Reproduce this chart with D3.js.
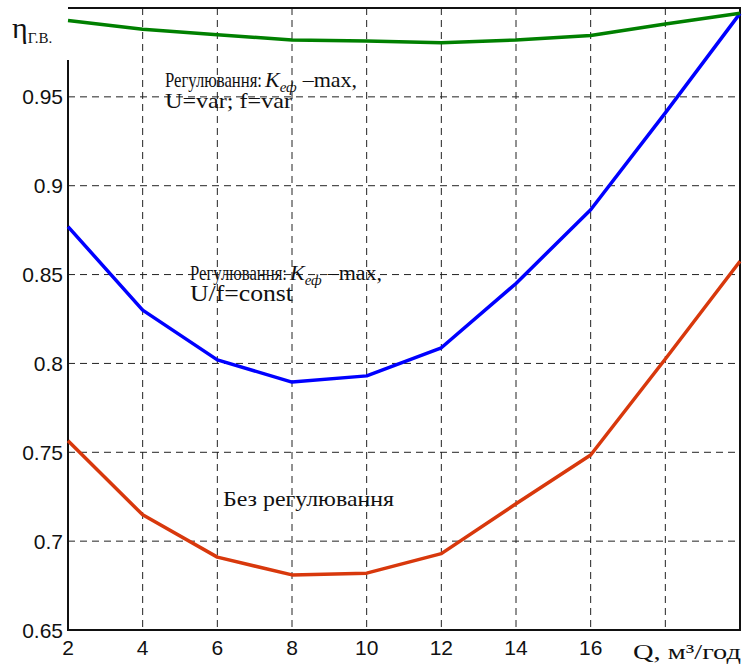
<!DOCTYPE html>
<meta charset="utf-8">
<style>
body { margin: 0; background: #fff; }
.grid line { stroke: #222; stroke-width: 1; stroke-dasharray: 7,5; }
.tick-label { font: 21px "Liberation Sans", Arial, sans-serif; fill: #111; }
.note { font-family: "Liberation Serif", "DejaVu Serif", "Times New Roman", serif; fill: #111; }
.curve { fill: none; stroke-width: 3.5px; stroke-linejoin: round; }
</style>
<body>
<script src="https://d3js.org/d3.v7.min.js"></script>
<script>

const width = 747;
const height = 666;

// Q, m3/h
const qValues = [2, 4, 6, 8, 10, 12, 14, 16, 18, 20];
// regulation Kef max, U=var; f=var
const etaVar = [0.993, 0.988, 0.985, 0.982, 0.9815, 0.9805, 0.982, 0.9845, 0.991, 0.997];
// regulation Kef max, U/f=const
const etaConst = [0.877, 0.830, 0.802, 0.7895, 0.793, 0.8088, 0.845, 0.8865, 0.941, 0.997];
// no regulation
const etaNone = [0.7565, 0.7148, 0.691, 0.681, 0.682, 0.693, 0.721, 0.7485, 0.8025, 0.8575];

const xTicks = [2, 4, 6, 8, 10, 12, 14, 16];
const xGrid = [4, 6, 8, 10, 12, 14, 16, 18];
const yTicks = [0.65, 0.7, 0.75, 0.8, 0.85, 0.9, 0.95];
const yGrid = [0.7, 0.75, 0.8, 0.85, 0.9, 0.95];

const x = d3.scaleLinear().domain([2, 20]).range([68, 740]);
const y = d3.scaleLinear().domain([0.65, 1.0]).range([630, 8]);

const svg = d3.select("body").append("svg")
    .attr("width", width)
    .attr("height", height);

// dashed grid
const grid = svg.append("g").attr("class", "grid");
grid.selectAll(".vg")
    .data(xGrid)
  .enter().append("line")
    .attr("x1", d => x(d)).attr("x2", d => x(d))
    .attr("y1", y(1.0)).attr("y2", y(0.65));
grid.selectAll(".hg")
    .data(yGrid)
  .enter().append("line")
    .attr("x1", x(2)).attr("x2", x(20))
    .attr("y1", d => y(d)).attr("y2", d => y(d));

// frame
svg.append("path")
    .attr("d", `M${x(2)},60 V${y(0.65)} H${x(20)} V${y(1.0)} H${x(2)}`)
    .attr("fill", "none")
    .attr("stroke", "#111")
    .attr("stroke-width", 2);

// tick labels
svg.selectAll(".ylab")
    .data(yTicks)
  .enter().append("text")
    .attr("class", "tick-label")
    .attr("x", 63)
    .attr("y", d => y(d))
    .attr("dy", "0.36em")
    .attr("text-anchor", "end")
    .text(d => d === 0.9 || d === 0.8 || d === 0.7 ? d.toFixed(1) : d.toFixed(2));

svg.selectAll(".xlab")
    .data(xTicks)
  .enter().append("text")
    .attr("class", "tick-label")
    .attr("x", d => x(d))
    .attr("y", 655)
    .attr("text-anchor", "middle")
    .text(d => d);

// curves
const line = d3.line()
    .x((d, i) => x(qValues[i]))
    .y(d => y(d));

const series = [
  { values: etaNone, color: "#d8380c" },
  { values: etaConst, color: "#0000ff" },
  { values: etaVar, color: "#008000" }
];

svg.selectAll(".curve")
    .data(series)
  .enter().append("path")
    .attr("class", "curve")
    .attr("stroke", d => d.color)
    .attr("d", d => line(d.values));

// axis titles
const eta = svg.append("text").attr("class", "note").attr("x", 12).attr("y", 38);
eta.append("tspan").style("font-size", "30px").text("η");
eta.append("tspan").style("font-size", "15px").attr("dy", 5).text("Г.В.");

svg.append("text")
    .attr("class", "note")
    .attr("x", 741)
    .attr("y", 659)
    .attr("text-anchor", "end")
    .style("font-size", "22px")
    .attr("textLength", 108)
    .attr("lengthAdjust", "spacingAndGlyphs")
    .text("Q, м³/год");

// annotations
function regLabel(x0, y0, secondLine, size2, len2) {
  svg.append("text").attr("class", "note")
      .attr("x", x0).attr("y", y0)
      .style("font-size", "21px")
      .attr("textLength", 97)
      .attr("lengthAdjust", "spacingAndGlyphs")
      .text("Регулювання:");

  const t1 = svg.append("text").attr("class", "note")
      .attr("x", x0 + 100).attr("y", y0).style("font-size", "22px");
  t1.append("tspan").style("font-style", "italic").text("K");
  t1.append("tspan").attr("dy", 5).style("font-style", "italic")
      .style("font-size", "15px").text("еф");
  t1.append("tspan").attr("dy", -5).attr("dx", 6).text("–max,");

  svg.append("text").attr("class", "note")
      .attr("x", x0).attr("y", y0 + 21)
      .style("font-size", size2)
      .attr("textLength", len2)
      .attr("lengthAdjust", "spacingAndGlyphs")
      .text(secondLine);
}

regLabel(165, 87, "U=var; f=var", "22px", 127);
regLabel(190, 280, "U/f=const", "24px", 103);

svg.append("text")
    .attr("class", "note")
    .attr("x", 223)
    .attr("y", 506)
    .style("font-size", "22px")
    .attr("textLength", 171)
    .attr("lengthAdjust", "spacingAndGlyphs")
    .text("Без регулювання");

</script>
</body>
